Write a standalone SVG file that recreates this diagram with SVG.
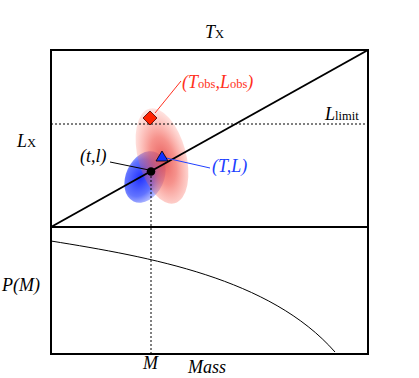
<svg xmlns="http://www.w3.org/2000/svg" width="419" height="378" viewBox="0 0 419 378">
<defs>
<style>
text{font-family:"Liberation Serif","Times New Roman",serif;font-size:18px}
.it{font-style:italic}
.sub{font-size:12.5px;font-style:normal}
.frame{fill:none;stroke:#000;stroke-width:2}
.dot{stroke:#000;stroke-width:1;stroke-dasharray:2,2;fill:none}
</style>
<radialGradient id="gb" cx="0.4" cy="0.55" r="0.6">
<stop offset="0" stop-color="#2030ff" stop-opacity="1"/>
<stop offset="0.6" stop-color="#3a50ff" stop-opacity="0.8"/>
<stop offset="1" stop-color="#6070ff" stop-opacity="0.35"/>
</radialGradient>
<radialGradient id="gr" cx="0.5" cy="0.55" r="0.55">
<stop offset="0" stop-color="#e03030" stop-opacity="0.78"/>
<stop offset="0.45" stop-color="#f04a40" stop-opacity="0.6"/>
<stop offset="1" stop-color="#ff7060" stop-opacity="0.18"/>
</radialGradient>
</defs>
<rect width="419" height="378" fill="#fff"/>
<g id="ellipses">
<ellipse cx="145" cy="177" rx="19" ry="27" transform="rotate(25 145 177)" fill="url(#gb)"/>
<ellipse cx="162" cy="156" rx="24" ry="49" transform="rotate(-15 162 156)" fill="url(#gr)"/>
</g>
<g id="frames">
<rect class="frame" x="51" y="50" width="317" height="304"/>
<line class="frame" x1="51" y1="227" x2="368" y2="227"/>
</g>
<g id="connectors">
<line class="dot" x1="51" y1="124" x2="368" y2="124"/>
<line class="dot" x1="151" y1="172" x2="151" y2="354"/>
<line x1="51" y1="227" x2="368" y2="50" stroke="#000" stroke-width="2"/>
<path d="M51,241 C150,257 270,278 335,352" fill="none" stroke="#000" stroke-width="1"/>
<line x1="155" y1="113" x2="181" y2="81" stroke="#ff3020" stroke-width="1"/>
<line x1="166" y1="158" x2="210" y2="168" stroke="#2040ff" stroke-width="1"/>
<line x1="110" y1="162" x2="149" y2="170" stroke="#000" stroke-width="1"/>
</g>
<g id="obs">
<polygon points="150,111 157,118 150,125 143,118" fill="#ff2200" stroke="#400" stroke-width="0.8"/>
<text class="it" x="182" y="88" fill="#ff3020">(<tspan>T</tspan><tspan class="sub">obs</tspan>,<tspan>L</tspan><tspan class="sub">obs</tspan>)</text>
</g>
<g id="true">
<polygon points="162,151 168,161 156,161" fill="#1030ff" stroke="#000" stroke-width="0.8"/>
<text class="it" x="212" y="172" fill="#2040ff">(T,L)</text>
</g>
<g id="model">
<circle cx="151" cy="171.5" r="4.3" fill="#000"/>
<text class="it" x="80" y="162">(t,l)</text>
</g>
<g id="labels">
<text class="it" x="205" y="38">T<tspan class="sub">X</tspan></text>
<text class="it" x="17" y="147">L<tspan class="sub">X</tspan></text>
<text class="it" x="325" y="120">L<tspan class="sub" font-size="13">limit</tspan></text>
<text class="it" x="2" y="291">P(M)</text>
<text class="it" x="143" y="369">M</text>
<text class="it" x="188" y="373">Mass</text>
</g>
</svg>
